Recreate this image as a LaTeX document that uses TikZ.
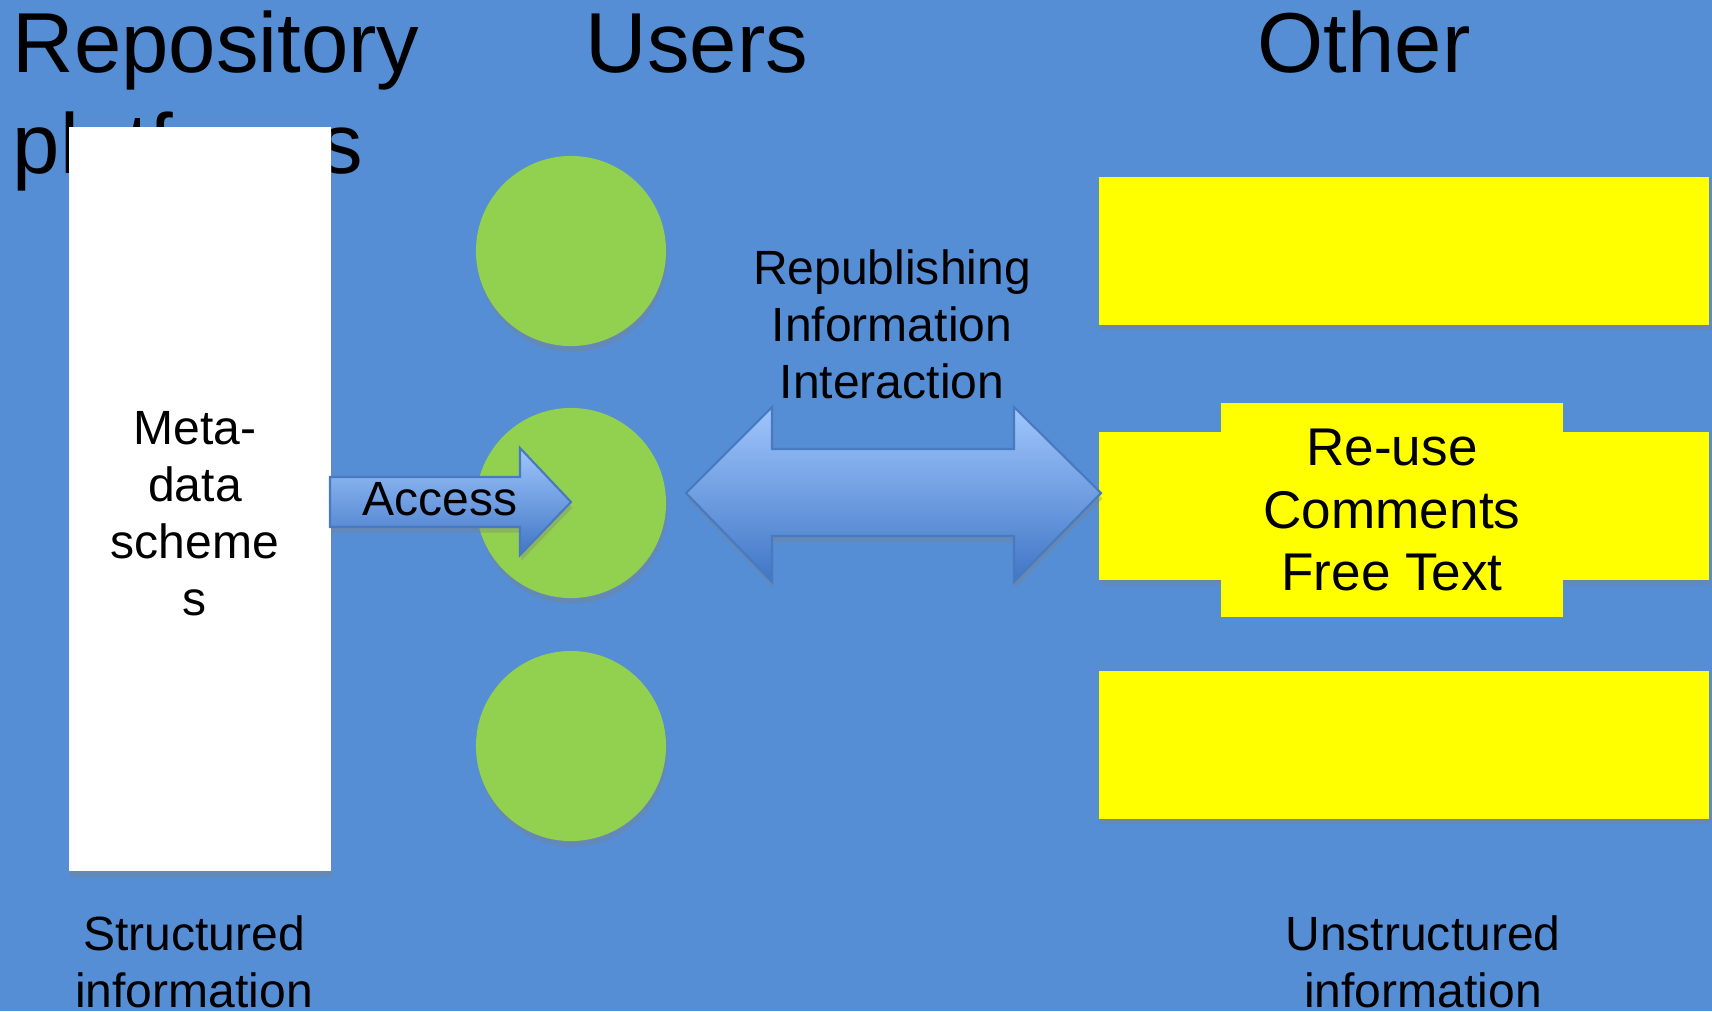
\documentclass[tikz,border=0pt]{standalone}
\usepackage{fontspec}
\setmainfont{Liberation Sans}
\usepackage{tikz}
\usetikzlibrary{shapes.geometric,shadows,positioning}
\definecolor{slide}{RGB}{85,142,213}
\definecolor{usergreen}{RGB}{146,208,80}
\definecolor{noteyellow}{RGB}{255,255,0}
\definecolor{arrowtop}{RGB}{160,198,252}
\definecolor{arrowbottom}{RGB}{64,118,198}
\definecolor{arrowedge}{RGB}{72,122,192}
\tikzset
{
    heading/.style   = {font=\fontsize{24.2}{28.7}\selectfont, anchor=base west, inner sep=0pt, align=left},
    smalltext/.style = {font=\fontsize{13.66}{16.2}\selectfont, anchor=base, inner sep=0pt, align=center},
    bigtext/.style   = {font=\fontsize{15.1}{17.9}\selectfont, align=center},
    soft/.style      = {drop shadow={shadow xshift=0.4pt, shadow yshift=-1.6pt, opacity=0.35}},
    repobox/.style   = {rectangle, fill=white, minimum width=2.62cm, minimum height=7.44cm, soft},
    userdot/.style   = {circle, fill=usergreen, minimum size=1.9cm, inner sep=0pt, soft},
    otherbox/.style  = {rectangle, fill=noteyellow, minimum width=6.1cm, minimum height=1.47cm, soft},
    notebox/.style   = {rectangle, fill=noteyellow, minimum width=3.42cm, minimum height=2.14cm},
    blockarrow/.style= {draw=arrowedge, line width=0.6pt, top color=arrowtop, bottom color=arrowbottom, soft}
}
\begin{document}
\begin{tikzpicture}[x=0.01cm, y=-0.01cm]
\useasboundingbox (0,0) rectangle (1712,1011);
\fill [slide] (0,0) rectangle (1712,1011);
% column titles
\node [heading] at (12,173) (repo) {Repository\\platforms};
\node [heading] at (585,72) (users) {Users};
\node [heading] at (1257,72) (other) {Other};
% repository
\node [repobox] at (200,499) (meta) {};
\node [smalltext] at (195,615) (metatext) {Meta-\\data\\scheme\\s};
% users
\node [userdot] at (571,251) (u1) {};
\node [userdot] at (571,503) (u2) {};
\node [userdot] at (571,746) (u3) {};
% other
\node [otherbox] at (1404,251) (o1) {};
\node [otherbox] at (1404,506) (o2) {};
\node [otherbox] at (1404,745) (o3) {};
\node [notebox, bigtext] at (1392,510) (notes) {Re-use\\Comments\\Free Text};
% arrows
\path [blockarrow] (330,477) -- (520,477) -- (520,448) -- (571,502) -- (520,555) -- (520,527) -- (330,527) -- cycle;
\node [smalltext] at (440,515) (access) {Access};
\path [blockarrow] (686,493) -- (772,407) -- (772,449) -- (1014,449) -- (1014,407) -- (1101,493)
    -- (1014,582) -- (1014,536) -- (772,536) -- (772,582) -- cycle;
\node [smalltext] at (892,398) (flow) {Republishing\\Information\\Interaction};
% captions
\node [smalltext] at (194,1007) (structured) {Structured\\information};
\node [smalltext] at (1423,1007) (unstructured) {Unstructured\\information};
\end{tikzpicture}
\end{document}
